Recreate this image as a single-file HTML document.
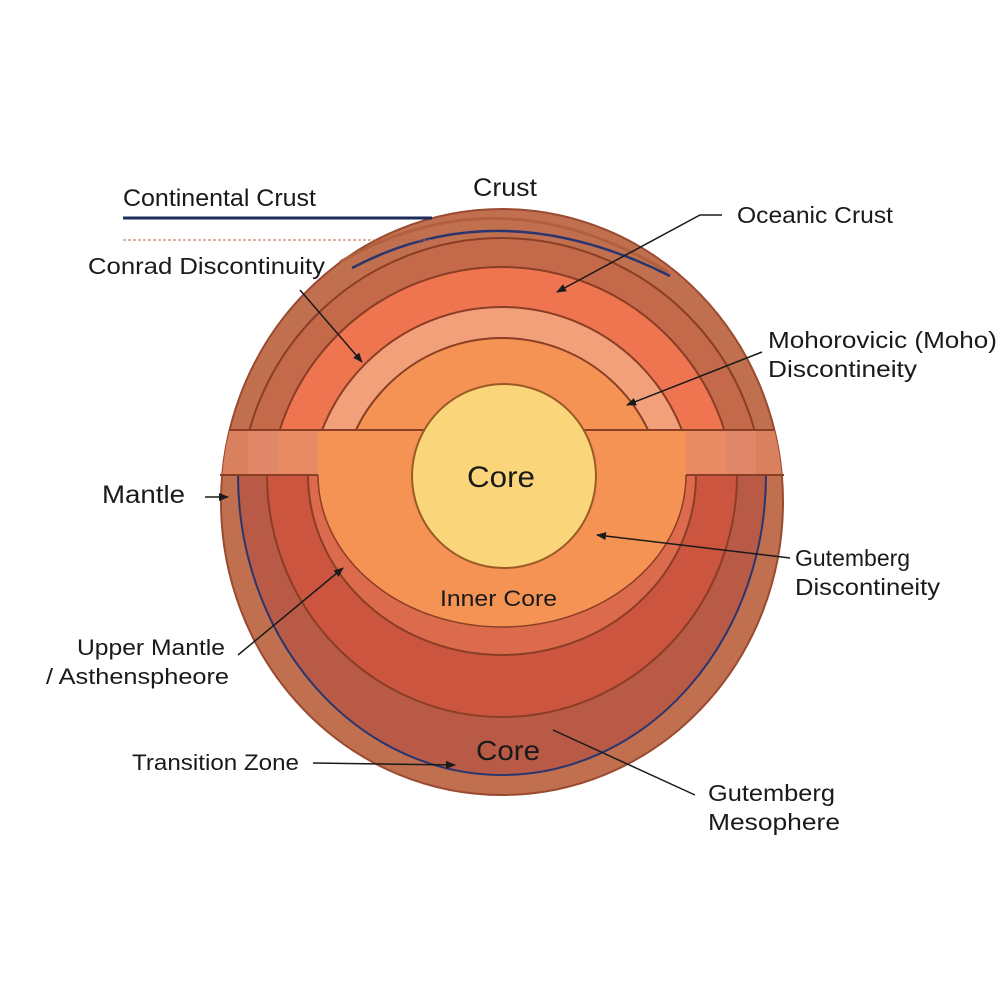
<!DOCTYPE html>
<html><head><meta charset="utf-8"><style>
html,body{margin:0;padding:0;background:#fff;}
svg{display:block;}
text{font-family:"Liberation Sans",sans-serif;fill:#1a1a1a;}
</style></head><body>
<svg width="1000" height="1000" viewBox="0 0 1000 1000" xmlns="http://www.w3.org/2000/svg">
<defs>
<clipPath id="top"><rect x="0" y="0" width="1000" height="430"/></clipPath>
<clipPath id="bot"><rect x="0" y="475" width="1000" height="525"/></clipPath>
<clipPath id="all"><ellipse cx="502" cy="502" rx="281" ry="293"/></clipPath>
<marker id="ar" markerWidth="10" markerHeight="10" refX="9" refY="5" orient="auto" markerUnits="userSpaceOnUse"><path d="M0,1 L10,5 L0,9 Z" fill="#1a1a1a"/></marker>
</defs>

<ellipse cx="502" cy="502" rx="281" ry="293" fill="#c0704f" stroke="#9a4a30" stroke-width="2"/>

<g clip-path="url(#top)" stroke="#8a3e25" stroke-width="2">
<circle cx="502" cy="500" r="262" fill="#c4694a"/>
<circle cx="502" cy="500" r="233" fill="#ee7550"/>
<circle cx="502" cy="500" r="193" fill="#f2a07a"/>
<circle cx="502" cy="500" r="162" fill="#f49354"/>
</g>

<g clip-path="url(#all)">
<rect x="220" y="430" width="564" height="45" fill="#d9805f"/>
<rect x="248" y="430" width="508" height="45" fill="#e0876a"/>
<rect x="278" y="430" width="448" height="45" fill="#e88a63"/>
<rect x="318" y="430" width="368" height="45" fill="#f49354"/>
<line x1="220" y1="430" x2="784" y2="430" stroke="#8a3e25" stroke-width="2"/>
</g>

<g clip-path="url(#bot)" stroke="#8a3e25" stroke-width="2">
<ellipse cx="502" cy="475" rx="264" ry="300" fill="#b85a45" stroke="#2a3570" stroke-width="2"/>
<ellipse cx="502" cy="475" rx="235" ry="242" fill="#cc5540"/>
<ellipse cx="502" cy="475" rx="194" ry="180" fill="#dc6a4c"/>
<ellipse cx="502" cy="475" rx="184" ry="152" fill="#f49354" stroke="#8a3e25" stroke-width="1.5"/>
</g>
<line x1="220" y1="475" x2="318" y2="475" stroke="#8a3e25" stroke-width="2"/>
<line x1="686" y1="475" x2="784" y2="475" stroke="#8a3e25" stroke-width="2"/>

<circle cx="504" cy="476" r="92" fill="#fbd57a" stroke="#9a5a25" stroke-width="2"/>

<path d="M340,262 Q500,170 668,272" fill="none" stroke="#b0603f" stroke-width="3"/>
<path d="M352,268 Q500,190 670,276" fill="none" stroke="#2a3570" stroke-width="2.5"/>

<line x1="123" y1="218" x2="432" y2="218" stroke="#1f2d5a" stroke-width="3"/>
<line x1="123" y1="240" x2="445" y2="240" stroke="#c0604a" stroke-width="1" stroke-dasharray="3,2"/>
<g stroke="#1a1a1a" stroke-width="1.5" fill="none">
<polyline points="722,215 700,215 557,292" marker-end="url(#ar)"/>
<line x1="300" y1="290" x2="362" y2="362" marker-end="url(#ar)"/>
<line x1="762" y1="352" x2="627" y2="405" marker-end="url(#ar)"/>
<line x1="205" y1="497" x2="228" y2="497" marker-end="url(#ar)"/>
<line x1="790" y1="558" x2="597" y2="535" marker-end="url(#ar)"/>
<line x1="238" y1="655" x2="343" y2="568" marker-end="url(#ar)"/>
<line x1="313" y1="763" x2="455" y2="765" marker-end="url(#ar)"/>
<line x1="695" y1="795" x2="553" y2="730"/>
</g>

<text x="123" y="206" font-size="24" textLength="193" lengthAdjust="spacingAndGlyphs">Continental Crust</text>
<text x="473" y="196" font-size="25" textLength="64" lengthAdjust="spacingAndGlyphs">Crust</text>
<text x="737" y="223" font-size="23" textLength="156" lengthAdjust="spacingAndGlyphs">Oceanic Crust</text>
<text x="88" y="274" font-size="23" textLength="237" lengthAdjust="spacingAndGlyphs">Conrad Discontinuity</text>
<text x="768" y="348" font-size="23" textLength="229" lengthAdjust="spacingAndGlyphs">Mohorovicic (Moho)</text>
<text x="768" y="377" font-size="23" textLength="149" lengthAdjust="spacingAndGlyphs">Discontineity</text>
<text x="102" y="503" font-size="25" textLength="83" lengthAdjust="spacingAndGlyphs">Mantle</text>
<text x="467" y="487" font-size="30" textLength="68" lengthAdjust="spacingAndGlyphs">Core</text>
<text x="795" y="566" font-size="23">Gutemberg</text>
<text x="795" y="595" font-size="23" textLength="145" lengthAdjust="spacingAndGlyphs">Discontineity</text>
<text x="440" y="606" font-size="22" textLength="117" lengthAdjust="spacingAndGlyphs">Inner Core</text>
<text x="77" y="655" font-size="22" textLength="148" lengthAdjust="spacingAndGlyphs">Upper Mantle</text>
<text x="46" y="684" font-size="22" textLength="183" lengthAdjust="spacingAndGlyphs">/  Asthenspheore</text>
<text x="132" y="770" font-size="22" textLength="167" lengthAdjust="spacingAndGlyphs">Transition Zone</text>
<text x="476" y="760" font-size="28" textLength="64" lengthAdjust="spacingAndGlyphs">Core</text>
<text x="708" y="801" font-size="23" textLength="127" lengthAdjust="spacingAndGlyphs">Gutemberg</text>
<text x="708" y="830" font-size="23" textLength="132" lengthAdjust="spacingAndGlyphs">Mesophere</text>
</svg>
</body></html>
